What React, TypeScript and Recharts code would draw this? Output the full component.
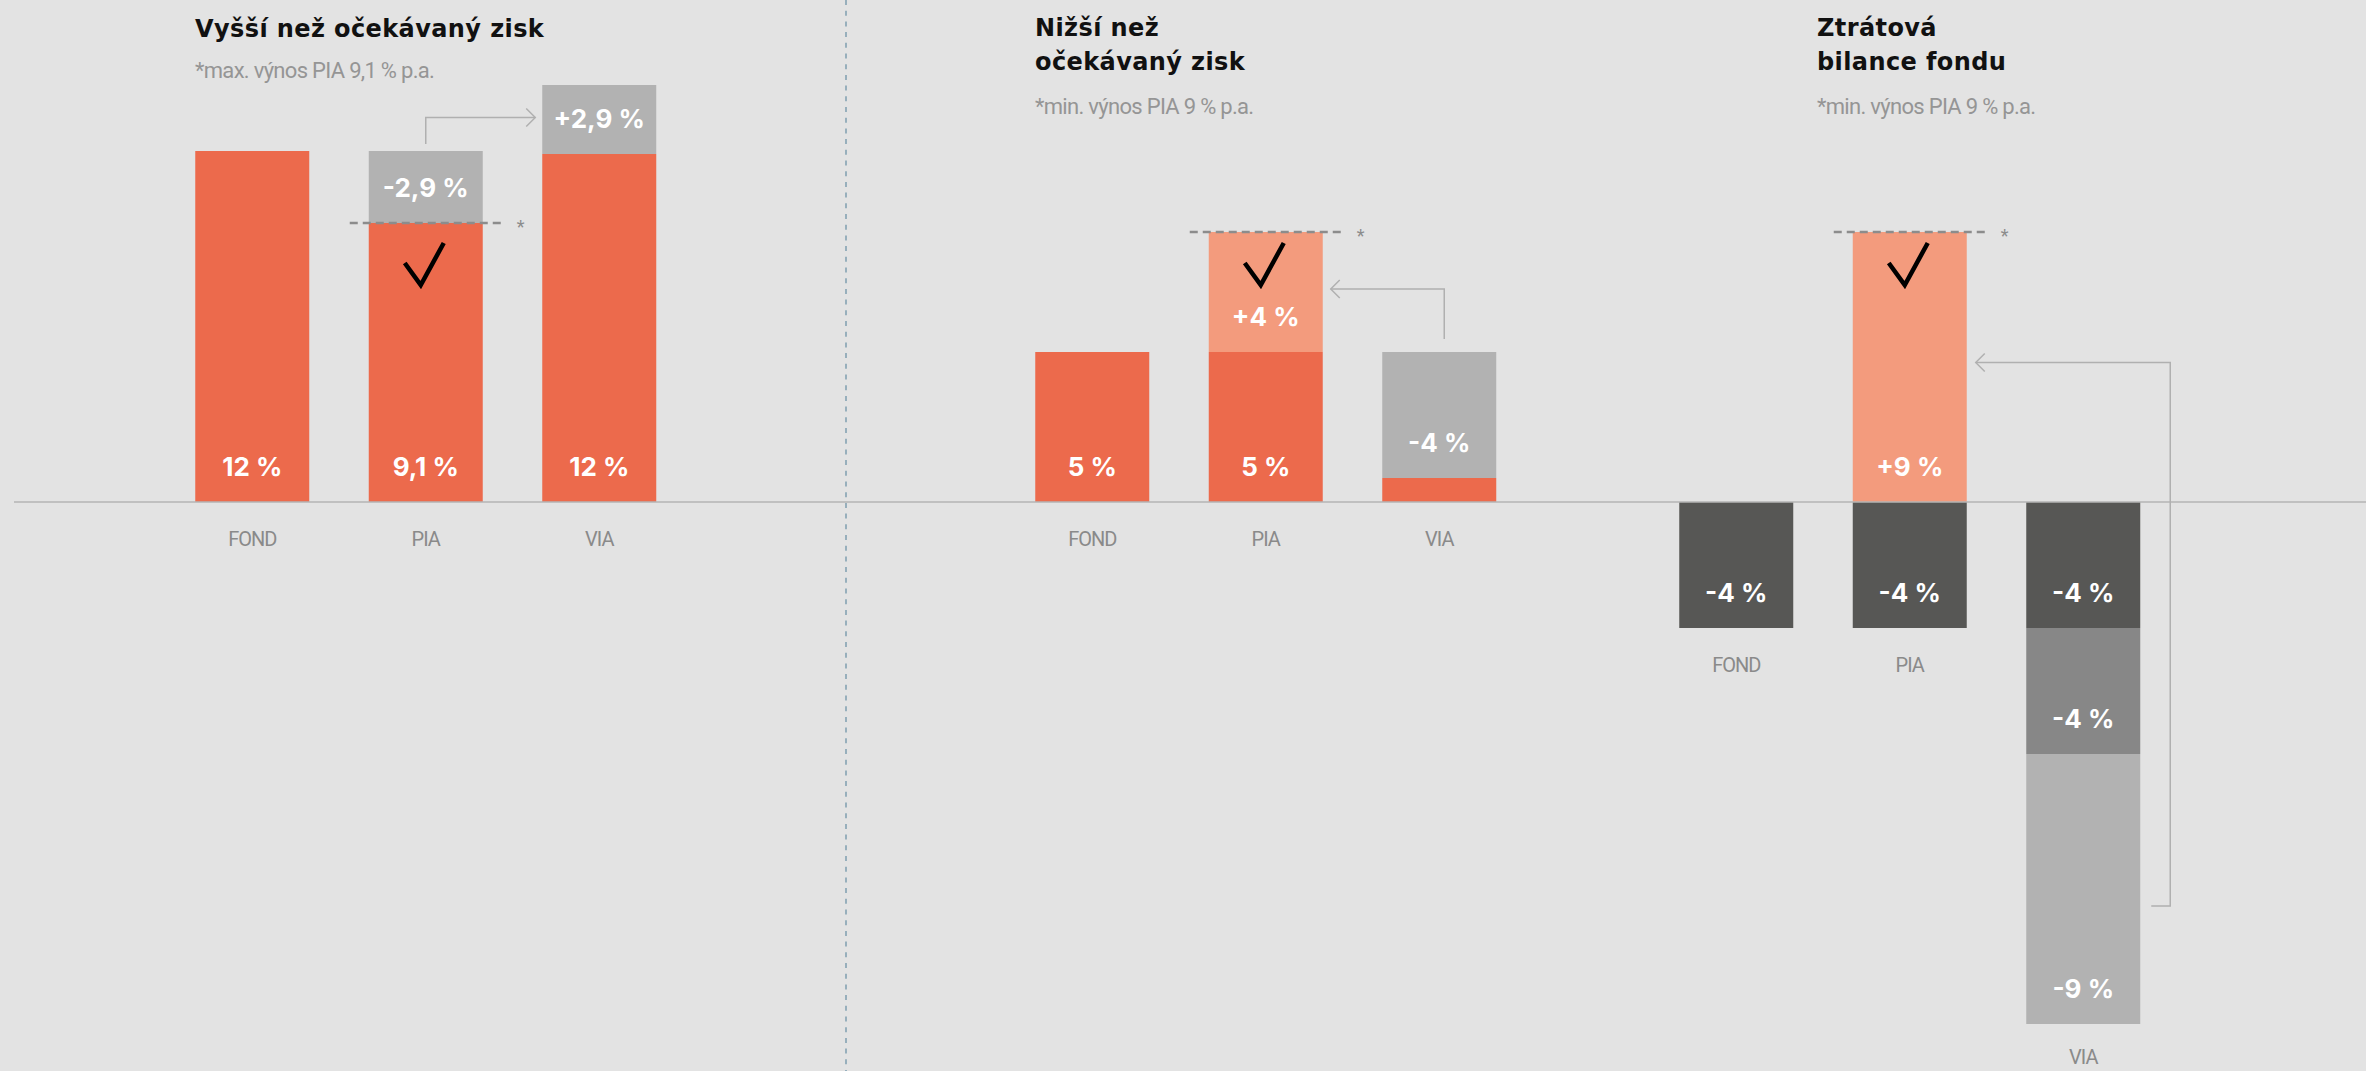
import React from "react"
import { BarChart, Bar, XAxis, YAxis, Cell, LabelList, ReferenceLine } from "recharts"

const categories = ["FOND", "PIA", "VIA"]

// 1) Vyšší než očekávaný zisk
const higherBase = [11.7, 9.3, 11.6]
const higherShift = [0, 2.4, 2.3]
const higherBaseText = ["12 %", "9,1 %", "12 %"]
const higherShiftText = ["", "-2,9 %", "+2,9 %"]

// 2) Nižší než očekávaný zisk
const lowerBase = [5, 5, 0.8]
const lowerShift = [0, 4, 4.2]
const lowerBaseText = ["5 %", "5 %", ""]
const lowerShiftText = ["", "+4 %", "-4 %"]

// 3) Ztrátová bilance fondu
const lossGain = [0, 9, 0]
const lossFund = [-4.2, -4.2, -4.2]
const lossShift = [0, 0, -4.2]
const lossRest = [0, 0, -9]
const lossGainText = ["", "+9 %", ""]
const lossFundText = ["-4 %", "-4 %", "-4 %"]
const lossShiftText = ["", "", "-4 %"]
const lossRestText = ["", "", "-9 %"]

const W = 2366
const H = 1071
const BAR = 114
const STEP = 173.5

const BG = "#e3e3e3"
const ORANGE = "#ec6a4c"
const SALMON = "#f39b7d"
const GREY = "#b2b2b2"
const DARK = "#575755"
const MID = "#878787"
const LINE = "#b0b0b0"

type Series = { key: string; values: number[]; text: string[]; fill: string[] }
type Box = { x: number; w: number; cx: number; top: number; bottom: number }

function Threshold({ b, y, checkOffset }: { b: Box; y: number; checkOffset: number }) {
  const x0 = b.x - 19
  const x1 = b.x + b.w + 19
  const t = y + checkOffset
  return (
    <g>
      <line x1={x0} x2={x1} y1={y} y2={y} stroke="#8c8c8c" strokeWidth={2.5} strokeDasharray="8 5" />
      <text x={x1 + 19} y={y + 10} fill="#8c8c8c" fontSize={18} fontFamily="Roboto" textAnchor="middle">*</text>
      <path
        d={`M${b.cx - 21} ${t + 20} L${b.cx - 5} ${t + 42} L${b.cx + 18} ${t}`}
        stroke="#000"
        strokeWidth={4.5}
        fill="none"
      />
    </g>
  )
}

function Panel({ left, width, padLeft, padRight, series, extras }: {
  left: number
  width: number
  padLeft: number
  padRight: number
  series: Series[]
  extras: (k: number, i: number, b: Box) => React.ReactNode
}) {
  const rows = categories.map((name, i) => {
    const row: any = { name }
    series.forEach((s) => { row[s.key] = s.values[i] })
    return row
  })
  // series whose segment forms the lowest edge of each column
  const floor = categories.map((_, i) => {
    let idx = -1
    series.forEach((s, k) => { if (s.values[i] < 0) idx = k })
    if (idx < 0) idx = series.findIndex((s) => s.values[i] > 0)
    return idx
  })

  const makeLabel = (k: number) => (props: any) => {
    const vb = props.viewBox || props
    const i = categories.indexOf(props.value)
    if (i < 0 || !vb || vb.width == null) return null
    const top = Math.min(vb.y, vb.y + vb.height)
    const bottom = Math.max(vb.y, vb.y + vb.height)
    const b: Box = { x: vb.x, w: vb.width, cx: vb.x + vb.width / 2, top, bottom }
    const s = series[k]
    return (
      <g>
        {s.text[i] ? (
          <text x={b.cx} y={bottom - 36} fill="#fff" fontFamily="Inter" fontWeight={700} fontSize={26}
            textAnchor="middle" dominantBaseline="central">{s.text[i]}</text>
        ) : null}
        {floor[i] === k ? (
          <text x={b.cx} y={Math.min(bottom + 37, H - 14)} fill="#8a8a8a" fontFamily="Roboto" fontSize={20}
            letterSpacing={-1} textAnchor="middle" dominantBaseline="central">{categories[i]}</text>
        ) : null}
        {extras(k, i, b)}
      </g>
    )
  }

  return (
    <div style={{ position: "absolute", left, top: 0 }}>
      <BarChart width={width} height={H} data={rows} margin={{ top: 22, right: 0, bottom: 29, left: 0 }}
        stackOffset="sign" barSize={BAR}>
        <XAxis dataKey="name" hide padding={{ left: padLeft, right: padRight }} />
        <YAxis type="number" hide domain={[-18, 16]} allowDataOverflow />
        {series.map((s, k) => (
          <Bar key={s.key} dataKey={s.key} stackId="a" isAnimationActive={false}>
            {s.fill.map((c, i) => <Cell key={i} fill={c} />)}
            <LabelList dataKey="name" content={makeLabel(k)} />
          </Bar>
        ))}
        <ReferenceLine y={0} stroke="#b5b5b5" strokeWidth={1.5} />
      </BarChart>
    </div>
  )
}

const arrowHead = (tx: number, ty: number, dir: number) =>
  `M${tx - 9 * dir} ${ty - 9} L${tx} ${ty} L${tx - 9 * dir} ${ty + 9}`

export default function App() {
  const higher: Series[] = [
    { key: "base", values: higherBase, text: higherBaseText, fill: [ORANGE, ORANGE, ORANGE] },
    { key: "shift", values: higherShift, text: higherShiftText, fill: [GREY, GREY, GREY] },
  ]
  const lower: Series[] = [
    { key: "base", values: lowerBase, text: lowerBaseText, fill: [ORANGE, ORANGE, ORANGE] },
    { key: "shift", values: lowerShift, text: lowerShiftText, fill: [SALMON, SALMON, GREY] },
  ]
  const loss: Series[] = [
    { key: "gain", values: lossGain, text: lossGainText, fill: [SALMON, SALMON, SALMON] },
    { key: "fund", values: lossFund, text: lossFundText, fill: [DARK, DARK, DARK] },
    { key: "shift", values: lossShift, text: lossShiftText, fill: [MID, MID, MID] },
    { key: "rest", values: lossRest, text: lossRestText, fill: [GREY, GREY, GREY] },
  ]

  const higherExtras = (k: number, i: number, b: Box) => {
    if (k !== 1) return null
    if (i === 1) return <Threshold b={b} y={b.bottom} checkOffset={20} />
    if (i === 2) {
      const tx = b.x - 7
      const ty = (b.top + b.bottom) / 2 - 2
      const sx = b.cx - STEP
      return (
        <g fill="none" stroke={LINE} strokeWidth={1.5}>
          <path d={`M${sx} ${b.bottom - 10} L${sx} ${ty} L${tx} ${ty}`} />
          <path d={arrowHead(tx, ty, 1)} />
        </g>
      )
    }
    return null
  }

  const lowerExtras = (k: number, i: number, b: Box) => {
    if (k !== 1 || i !== 1) return null
    const tx = b.x + b.w + 8
    const ty = (b.top + b.bottom) / 2 - 3
    const sx = b.cx + STEP + 5
    return (
      <g>
        <Threshold b={b} y={b.top} checkOffset={11} />
        <g fill="none" stroke={LINE} strokeWidth={1.5}>
          <path d={`M${sx} ${b.bottom - 13} L${sx} ${ty} L${tx} ${ty}`} />
          <path d={arrowHead(tx, ty, -1)} />
        </g>
      </g>
    )
  }

  const lossExtras = (k: number, i: number, b: Box) => {
    if (k !== 0 || i !== 1) return null
    const tx = b.x + b.w + 9
    const ty = (b.top + b.bottom) / 2 - 4.5
    const ppu = (b.bottom - b.top) / lossGain[1]
    const target = lossFund[2] + lossShift[2] + lossRest[2] / 2
    const lowY = b.bottom - target * ppu + 17
    const vx = b.cx + STEP + BAR / 2 + 30
    return (
      <g>
        <Threshold b={b} y={b.top} checkOffset={11} />
        <g fill="none" stroke={LINE} strokeWidth={1.5}>
          <path d={`M${tx} ${ty} L${vx} ${ty} L${vx} ${lowY} L${vx - 19} ${lowY}`} />
          <path d={arrowHead(tx, ty, -1)} />
        </g>
      </g>
    )
  }

  const titleStyle = { fontFamily: "DejaVu Sans", fontWeight: 700, fontSize: 24, fill: "#111", letterSpacing: 0.4 }
  const subStyle = { fontFamily: "Roboto", fontSize: 22, fill: "#959595", letterSpacing: -0.7 }

  return (
    <div style={{ width: W, height: H, position: "relative", background: BG, overflow: "hidden" }}>
      <style>{"body{margin:0}"}</style>
      <Panel left={14} width={832} padLeft={151.25} padRight={160.25} series={higher} extras={higherExtras} />
      <Panel left={846} width={754} padLeft={159.25} padRight={74.25} series={lower} extras={lowerExtras} />
      <Panel left={1600} width={766} padLeft={49.25} padRight={196.25} series={loss} extras={lossExtras} />
      <svg width={W} height={H} style={{ position: "absolute", left: 0, top: 0, pointerEvents: "none" }}>
        <line x1={846} x2={846} y1={0} y2={H} stroke="#7f9fb0" strokeWidth={1.5} strokeDasharray="5 5.7" />
        <text x={195} y={36.7} {...titleStyle}>Vyšší než očekávaný zisk</text>
        <text x={195} y={78} {...subStyle}>*max. výnos PIA 9,1 % p.a.</text>
        <text x={1035} y={36} {...titleStyle}>Nižší než</text>
        <text x={1035} y={70} {...titleStyle}>očekávaný zisk</text>
        <text x={1035} y={113.5} {...subStyle}>*min. výnos PIA 9 % p.a.</text>
        <text x={1817} y={36} {...titleStyle}>Ztrátová</text>
        <text x={1817} y={70} {...titleStyle}>bilance fondu</text>
        <text x={1817} y={113.5} {...subStyle}>*min. výnos PIA 9 % p.a.</text>
      </svg>
    </div>
  )
}
